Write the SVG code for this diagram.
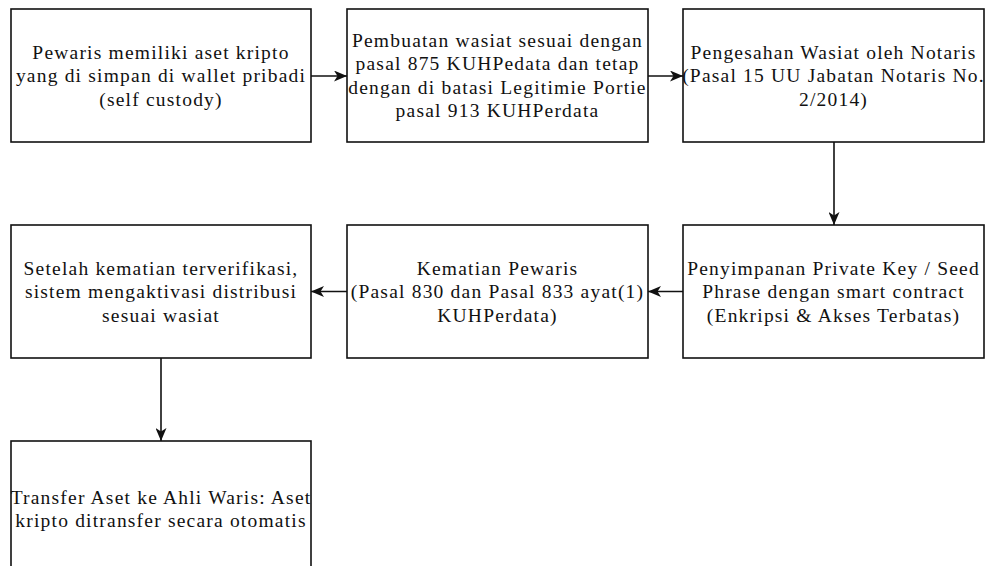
<svg xmlns="http://www.w3.org/2000/svg" width="988" height="566" viewBox="0 0 988 566">
<defs>
<style>
.box{fill:#fff;stroke:#111;stroke-width:1.6}
.t{font-family:"Liberation Serif","DejaVu Serif",serif;font-size:19.5px;letter-spacing:1.2px;fill:#111;text-anchor:middle}
.c{fill:none;stroke:#111;stroke-width:1.6}
</style>
<marker id="ah" viewBox="0 0 13 11" refX="13" refY="5.5" markerWidth="13" markerHeight="11" markerUnits="userSpaceOnUse" orient="auto">
<path d="M0,0 L13,5.5 L0,11 L3.5,5.5 Z" fill="#111"/>
</marker>
</defs>
<rect width="988" height="566" fill="#fff"/>
<g id="connectors">
<line class="c" x1="311" y1="76" x2="347" y2="76" marker-end="url(#ah)"/>
<line class="c" x1="648" y1="76" x2="683" y2="76" marker-end="url(#ah)"/>
<line class="c" x1="834" y1="142" x2="834" y2="225" marker-end="url(#ah)"/>
<line class="c" x1="683" y1="291.5" x2="648" y2="291.5" marker-end="url(#ah)"/>
<line class="c" x1="347" y1="291.5" x2="311" y2="291.5" marker-end="url(#ah)"/>
<line class="c" x1="161" y1="358" x2="161" y2="441" marker-end="url(#ah)"/>
</g>
<g id="n1">
<rect class="box" x="11" y="9" width="300" height="133"/>
<text class="t" x="161" y="58.5">Pewaris memiliki aset kripto</text>
<text class="t" x="161" y="82">yang di simpan di wallet pribadi</text>
<text class="t" x="161" y="105.5">(self custody)</text>
</g>
<g id="n2">
<rect class="box" x="347" y="9" width="301" height="133"/>
<text class="t" x="497.5" y="46.75">Pembuatan wasiat sesuai dengan</text>
<text class="t" x="497.5" y="70.25">pasal 875 KUHPedata dan tetap</text>
<text class="t" x="497.5" y="93.75">dengan di batasi Legitimie Portie</text>
<text class="t" x="497.5" y="117.25">pasal 913 KUHPerdata</text>
</g>
<g id="n3">
<rect class="box" x="683" y="9" width="301" height="133"/>
<text class="t" x="833.5" y="58.5">Pengesahan Wasiat oleh Notaris</text>
<text class="t" x="833.5" y="82">(Pasal 15 UU Jabatan Notaris No.</text>
<text class="t" x="833.5" y="105.5">2/2014)</text>
</g>
<g id="n4">
<rect class="box" x="683" y="225" width="301" height="133"/>
<text class="t" x="833.5" y="274.5">Penyimpanan Private Key / Seed</text>
<text class="t" x="833.5" y="298">Phrase dengan smart contract</text>
<text class="t" x="833.5" y="321.5">(Enkripsi &amp; Akses Terbatas)</text>
</g>
<g id="n5">
<rect class="box" x="347" y="225" width="301" height="133"/>
<text class="t" x="497.5" y="274.5">Kematian Pewaris</text>
<text class="t" x="497.5" y="298">(Pasal 830 dan Pasal 833 ayat(1)</text>
<text class="t" x="497.5" y="321.5">KUHPerdata)</text>
</g>
<g id="n6">
<rect class="box" x="11" y="225" width="300" height="133"/>
<text class="t" x="161" y="274.5">Setelah kematian terverifikasi,</text>
<text class="t" x="161" y="298">sistem mengaktivasi distribusi</text>
<text class="t" x="161" y="321.5">sesuai wasiat</text>
</g>
<g id="n7">
<rect class="box" x="11" y="441" width="300" height="140"/>
<text class="t" x="161" y="503.5">Transfer Aset ke Ahli Waris: Aset</text>
<text class="t" x="161" y="527">kripto ditransfer secara otomatis</text>
</g>
</svg>
